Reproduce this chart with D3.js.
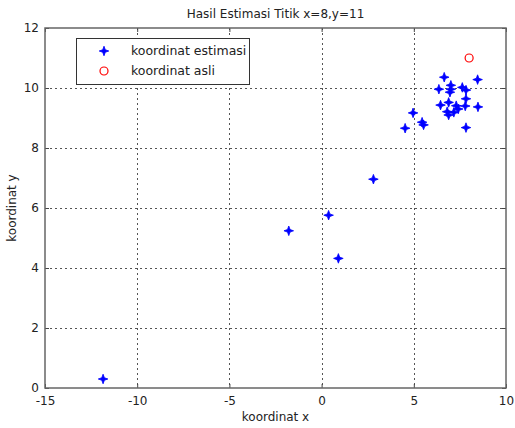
<!DOCTYPE html>
<html>
<head>
<meta charset="utf-8">
<script src="https://cdn.jsdelivr.net/npm/d3@7"></script>
<style>
  body { margin: 0; background: #fff; }
  text { font-family: "DejaVu Sans", sans-serif; fill: #222; }
</style>
</head>
<body>
<svg id="grafik"></svg>
<script>
// data estimasi
const estX = [6.65, 8.46, 7.01, 6.36, 7.01, 7.63, 7.83, 6.96, 7.83, 6.45, 6.89, 7.30, 7.79, 8.48, 7.41, 6.81, 7.17, 6.89, 4.96, 5.45, 5.53, 4.53, 7.83, 2.81, 0.38, -1.78, 0.91, -11.85];
const estY = [10.36, 10.28, 10.09, 9.96, 9.96, 10.02, 9.93, 9.86, 9.64, 9.43, 9.52, 9.41, 9.40, 9.37, 9.30, 9.21, 9.19, 9.10, 9.17, 8.86, 8.77, 8.66, 8.68, 6.96, 5.76, 5.24, 4.32, 0.30];
const asliX = [8];
const asliY = [11];
const xTicks = [-15, -10, -5, 0, 5, 10];
const yTicks = [0, 2, 4, 6, 8, 10, 12];
const legendLabels = ["koordinat estimasi", "koordinat asli"];

const width = 515, height = 428;
const margin = {top: 28, right: 8, bottom: 40, left: 45};

const svg = d3.select("#grafik").attr("width", width).attr("height", height);

const x = d3.scaleLinear().domain([-15, 10]).range([margin.left, width - margin.right - 1]);
const y = d3.scaleLinear().domain([0, 12]).range([height - margin.bottom, margin.top]);

const x0 = x.range()[0], x1 = x.range()[1], y0 = y.range()[0], y1 = y.range()[1];

// grid
const grid = svg.append("g").attr("stroke", "#555").attr("stroke-width", 1).attr("stroke-dasharray", "2,3");
grid.selectAll(".gx").data(xTicks.slice(1, -1)).enter().append("line")
  .attr("x1", d => Math.round(x(d)) + 0.5).attr("x2", d => Math.round(x(d)) + 0.5)
  .attr("y1", y1).attr("y2", y0);
grid.selectAll(".gy").data(yTicks.slice(1, -1)).enter().append("line")
  .attr("y1", d => Math.round(y(d)) + 0.5).attr("y2", d => Math.round(y(d)) + 0.5)
  .attr("x1", x0).attr("x2", x1);

// sumbu (pakai tanda minus biasa seperti gambar asli)
const fmt = d => String(d);
const axB = svg.append("g").attr("transform", `translate(0,${y0})`)
  .call(d3.axisBottom(x).tickValues(xTicks).tickSize(-4).tickPadding(8).tickFormat(fmt));
const axT = svg.append("g").attr("transform", `translate(0,${y1})`)
  .call(d3.axisTop(x).tickValues(xTicks).tickSize(-4).tickFormat(""));
const axL = svg.append("g").attr("transform", `translate(${x0},0)`)
  .call(d3.axisLeft(y).tickValues(yTicks).tickSize(-4).tickPadding(6).tickFormat(fmt));
const axR = svg.append("g").attr("transform", `translate(${x1},0)`)
  .call(d3.axisRight(y).tickValues(yTicks).tickSize(-4).tickFormat(""));
[axB, axT, axL, axR].forEach(a => {
  a.select(".domain").remove();
  a.selectAll("line").attr("stroke", "#444");
  a.selectAll("text").style("font-size", "12px").style("font-family", "DejaVu Sans").attr("fill", "#222");
});

svg.append("rect").attr("x", x0).attr("y", y1).attr("width", x1 - x0).attr("height", y0 - y1)
  .attr("fill", "none").attr("stroke", "#666").attr("stroke-width", 1.5);

// marker bintang
function bintang(r) {
  const p = [];
  for (let i = 0; i < 8; i++) {
    const a = i * Math.PI / 4 - Math.PI / 2;
    const rr = i % 2 === 0 ? r : r * 0.38;
    p.push([Math.cos(a) * rr, Math.sin(a) * rr]);
  }
  return "M" + p.map(q => q.join(",")).join("L") + "Z";
}

const dataEst = estX.map((v, i) => ({x: v, y: estY[i]}));
svg.append("g").selectAll("path").data(dataEst).enter().append("path")
  .attr("d", bintang(4.8))
  .attr("transform", d => `translate(${x(d.x)},${y(d.y)})`)
  .attr("fill", "#0000ff").attr("stroke", "#0000ff").attr("stroke-width", 0.8);

const dataAsli = asliX.map((v, i) => ({x: v, y: asliY[i]}));
svg.append("g").selectAll("circle").data(dataAsli).enter().append("circle")
  .attr("cx", d => x(d.x)).attr("cy", d => y(d.y)).attr("r", 4)
  .attr("fill", "none").attr("stroke", "#ff0000").attr("stroke-width", 1.2);

// legenda
const lg = svg.append("g");
lg.append("rect").attr("x", 76.5).attr("y", 38.5).attr("width", 173).attr("height", 46)
  .attr("fill", "#fff").attr("stroke", "#333").attr("stroke-width", 1);
lg.append("path").attr("d", bintang(4.8)).attr("transform", "translate(104,51)")
  .attr("fill", "#0000ff").attr("stroke", "#0000ff").attr("stroke-width", 0.8);
lg.append("circle").attr("cx", 104).attr("cy", 71).attr("r", 4)
  .attr("fill", "none").attr("stroke", "#ff0000").attr("stroke-width", 1.2);
lg.selectAll("text").data(legendLabels).enter().append("text")
  .attr("x", 131).attr("y", (d, i) => 55 + i * 20)
  .style("font-size", "12.5px").text(d => d);

// judul dan label
svg.append("text").attr("x", (x0 + x1) / 2).attr("y", 18).attr("text-anchor", "middle")
  .style("font-size", "12px").text("Hasil Estimasi Titik x=8,y=11");
svg.append("text").attr("x", (x0 + x1) / 2).attr("y", 421).attr("text-anchor", "middle")
  .style("font-size", "12px").text("koordinat x");
svg.append("text").attr("transform", `translate(16,${(y0 + y1) / 2}) rotate(-90)`)
  .attr("text-anchor", "middle").style("font-size", "12px").text("koordinat y");
</script>
</body>
</html>
